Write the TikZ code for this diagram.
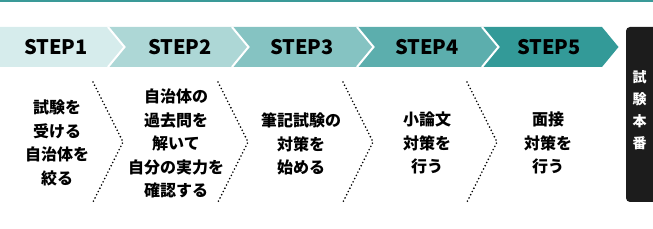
\documentclass[tikz,border=0pt]{standalone}
\usepackage{fontspec}
\setmainfont{Noto Sans CJK JP}[BoldFont={Noto Sans CJK JP Black}]
\usetikzlibrary{positioning}

\definecolor{stepA}{HTML}{D6ECEC}
\definecolor{stepB}{HTML}{ADD7D6}
\definecolor{stepC}{HTML}{85C3C2}
\definecolor{stepD}{HTML}{5CAEAD}
\definecolor{stepE}{HTML}{339A98}
\definecolor{topbar}{HTML}{3A9A98}
\definecolor{exambg}{HTML}{1C1C1C}

\tikzset{
  steplabel/.style={font=\fontsize{20}{20}\selectfont\bfseries,inner sep=0pt},
  steptext/.style={align=center,font=\fontsize{16}{23.5}\selectfont\bfseries,inner sep=0pt},
  examtext/.style={align=center,text=white,font=\fontsize{14}{22}\selectfont\bfseries,inner sep=0pt},
  sepline/.style={line width=1.8pt,line cap=round,dash pattern=on 0pt off 3.6pt}
}

\begin{document}
\begin{tikzpicture}[x=1pt,y=-1pt]
  \useasboundingbox (0,0) rectangle (653,229);
  \fill[topbar] (0,0) rectangle (653,2);

  % chevron band
  \fill[stepA] (0,27) -- (108,27) -- (124.5,47) -- (108,67) -- (0,67) -- cycle;
  \foreach \xa/\xb/\c in {108/232/stepB,232/357/stepC,357/482/stepD,482/602/stepE}
    \fill[\c] (\xa,27) -- (\xb,27) -- (\xb+16.5,47) -- (\xb,67) -- (\xa,67) -- (\xa+16.5,47) -- cycle;
  \foreach \xa in {108,232,357,482}
    \draw[white,line width=2pt] (\xa,27) -- (\xa+16.5,47) -- (\xa,67);

  \node[steplabel] (s1) at (56,47) {STEP1};
  \node[steplabel] (s2) at (180,47) {STEP2};
  \node[steplabel] (s3) at (302,47) {STEP3};
  \node[steplabel] (s4) at (427,47) {STEP4};
  \node[steplabel] (s5) at (549,47) {STEP5};

  % dotted separators
  \foreach \x in {93,218,343,467}
    \draw[sepline] (\x,82) -- (\x+30,142) -- (\x,202);

  \node[steptext] (t1) at (57,143) {試験を\\受ける\\自治体を\\絞る};
  \node[steptext] (t2) at (176,143.5) {自治体の\\過去問を\\解いて\\自分の実力を\\確認する};
  \node[steptext] (t3) at (301,144) {筆記試験の\\対策を\\始める};
  \node[steptext] (t4) at (427,143) {小論文\\対策を\\行う};
  \node[steptext] (t5) at (548,143) {面接\\対策を\\行う};

  % exam box
  \begin{scope}
    \clip (0,0) rectangle (653,229);
    \fill[exambg,rounded corners=4pt] (626,27) rectangle (662,202);
  \end{scope}
  \node[examtext] (exam) at (639.5,110) {試\\験\\本\\番};
\end{tikzpicture}
\end{document}
